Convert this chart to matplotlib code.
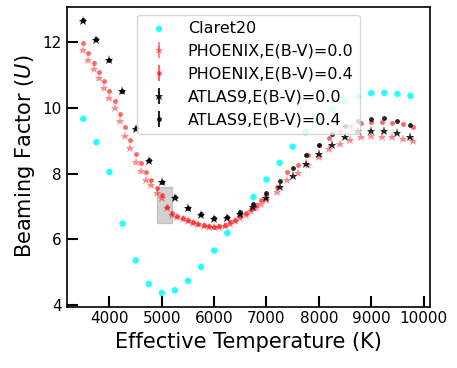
import matplotlib
matplotlib.use("Agg")
import matplotlib.pyplot as plt

# --- Data ---
teff_claret = [3500, 3750, 4000, 4250, 4500, 4750, 5000, 5250, 5500, 5750, 6000, 6250, 6500,
               6750, 7000, 7250, 7500, 7750, 8000, 8250, 8500, 8750, 9000, 9250, 9500, 9750]
u_claret = [9.67, 8.96, 8.05, 6.48, 5.36, 4.64, 4.37, 4.45, 4.74, 5.16, 5.66, 6.19, 6.78,
            7.29, 7.82, 8.33, 8.82, 9.26, 9.67, 9.95, 10.21, 10.35, 10.45, 10.46, 10.43, 10.37]

teff_phoenix = [3500, 3600, 3700, 3800, 3900, 4000, 4100, 4200, 4300, 4400, 4500, 4600, 4700,
                4800, 4900, 5000, 5100, 5200, 5300, 5400, 5500, 5600, 5700, 5800, 5900, 6000,
                6100, 6200, 6300, 6400, 6500, 6600, 6700, 6800, 6900, 7000, 7200, 7400, 7600,
                7800, 8000, 8200, 8400, 8600, 8800, 9000, 9200, 9400, 9600, 9800]
u_phoenix_00 = [11.77, 11.46, 11.18, 10.91, 10.62, 10.31, 9.99, 9.59, 9.16, 8.79, 8.37, 8.07, 7.82,
                7.65, 7.42, 7.26, 6.96, 6.74, 6.67, 6.61, 6.56, 6.51, 6.46, 6.42, 6.39, 6.37,
                6.38, 6.42, 6.48, 6.55, 6.64, 6.74, 6.85, 6.97, 7.09, 7.20, 7.45, 7.80, 8.02,
                8.27, 8.50, 8.74, 8.91, 9.04, 9.12, 9.16, 9.13, 9.12, 9.06, 9.00]
u_phoenix_04 = [11.99, 11.67, 11.37, 11.10, 10.81, 10.52, 10.21, 9.83, 9.42, 9.02, 8.61, 8.32, 8.05,
                7.80, 7.55, 7.34, 6.98, 6.81, 6.70, 6.64, 6.58, 6.53, 6.48, 6.44, 6.41, 6.39,
                6.40, 6.45, 6.52, 6.60, 6.70, 6.81, 6.93, 7.06, 7.20, 7.34, 7.60, 8.05, 8.27,
                8.58, 8.86, 9.08, 9.30, 9.46, 9.55, 9.57, 9.56, 9.55, 9.50, 9.42]

teff_atlas = teff_claret
u_atlas_00 = [12.65, 12.08, 11.45, 10.51, 9.36, 8.40, 7.74, 7.27, 6.95, 6.74, 6.63, 6.64, 6.78,
              7.00, 7.26, 7.60, 7.93, 8.29, 8.60, 8.88, 9.11, 9.29, 9.31, 9.31, 9.24, 9.12]
u_atlas_04 = [12.67, 12.10, 11.47, 10.53, 9.38, 8.42, 7.76, 7.29, 6.97, 6.76, 6.65, 6.68, 6.84,
              7.09, 7.42, 7.78, 8.17, 8.56, 8.88, 9.20, 9.45, 9.61, 9.67, 9.69, 9.61, 9.48]

# highlighted region
box_teff = [4900, 5200]
box_u = [6.5, 7.6]

# --- Plot ---
fig, ax = plt.subplots(figsize=(4.57, 3.68), dpi=100)
fig.subplots_adjust(left=0.146, right=0.94, bottom=0.167, top=0.982)

ax.scatter(teff_claret, u_claret, s=22, color='cyan', alpha=0.85, edgecolors='none', label='Claret20')
ax.errorbar(teff_phoenix, u_phoenix_00, yerr=0, fmt='*', ms=6.5, color='red', alpha=0.45,
            mew=0, label='PHOENIX,E(B-V)=0.0')
ax.errorbar(teff_phoenix, u_phoenix_04, yerr=0, fmt='o', ms=3.5, color='red', alpha=0.6,
            mew=0, label='PHOENIX,E(B-V)=0.4')
ax.errorbar(teff_atlas, u_atlas_00, yerr=0, fmt='*', ms=6.5, color='black', alpha=0.85,
            mew=0, label='ATLAS9,E(B-V)=0.0')
ax.errorbar(teff_atlas, u_atlas_04, yerr=0, fmt='o', ms=3.5, color='black', alpha=0.85,
            mew=0, label='ATLAS9,E(B-V)=0.4')

ax.fill_between(box_teff, box_u[0], box_u[1], color='gray', alpha=0.35, lw=1)

ax.set_xticks([4000, 5000, 6000, 7000, 8000, 9000, 10000])
ax.set_yticks([4, 6, 8, 10, 12])
ax.tick_params(direction='in', length=8, width=1.5, labelsize=11)
for sp in ax.spines.values():
    sp.set_linewidth(1.2)

ax.set_xlabel('Effective Temperature (K)', fontsize=15)
ax.set_ylabel('Beaming Factor ($U$)', fontsize=15)
ax.legend(loc='upper center', fontsize=11.5)

fig.savefig('out.png')
